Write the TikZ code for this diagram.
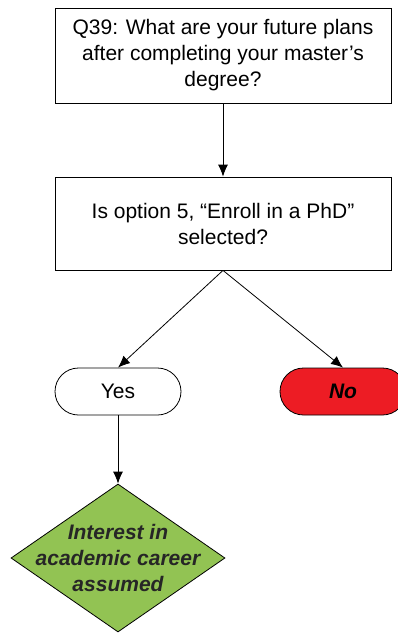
\documentclass[tikz,border=0pt]{standalone}
\usepackage{fontspec}
\setmainfont{Liberation Sans}
\usepackage{tikz}
\usetikzlibrary{arrows.meta}
\usetikzlibrary{positioning,shapes.geometric}
\definecolor{noRed}{HTML}{ED1C24}
\definecolor{resGreen}{HTML}{92C353}
\tikzset{
	qbox/.style={rectangle, draw=black, line width=0.8pt, minimum width=336pt, align=center, font=\fontsize{21}{26}\selectfont},
	endnode/.style={rectangle, rounded corners=23.5pt, draw=black, line width=0.8pt, minimum width=126pt, minimum height=47pt, font=\fontsize{21}{24}\selectfont},
	resnode/.style={diamond, draw=black, fill=resGreen, line width=0.8pt, inner sep=0pt, minimum width=214pt, minimum height=148pt},
	flow/.style={-{Latex[length=12pt,width=10pt]}, line width=0.8pt}
}

\begin{document}
\begin{tikzpicture}[x=1pt,y=-1pt]
		\useasboundingbox (0,0) rectangle (397,633);
		\node[qbox, minimum height=95pt] at (223,55.5) (q39)     {Q39: What are your future plans\\after completing your master’s\\degree?};
		\node[qbox, minimum height=93pt] at (223,223.5) (opt5)     {Is option 5, “Enroll in a PhD”\\selected?};
		\node[endnode] at (118,391.5) (yes)    {Yes};
		\node[endnode, fill=noRed] at (343,391.5) (no)    {\textbf{\textit{No}}};
		\node[resnode] at (118,558) (res)    {};
		\node[align=center, text=black!85, font=\fontsize{21}{26}\selectfont\bfseries\itshape] at (res) (restext) {Interest in\\academic career\\assumed};
		
		%Lines
		\draw[flow] (q39) -- (opt5);
		\draw[flow] (opt5.south) -- (yes.north);
		\draw[flow] (opt5.south) -- (no.north);
		\draw[flow] (yes) -- (res.north);
		
	\end{tikzpicture}
\end{document}
